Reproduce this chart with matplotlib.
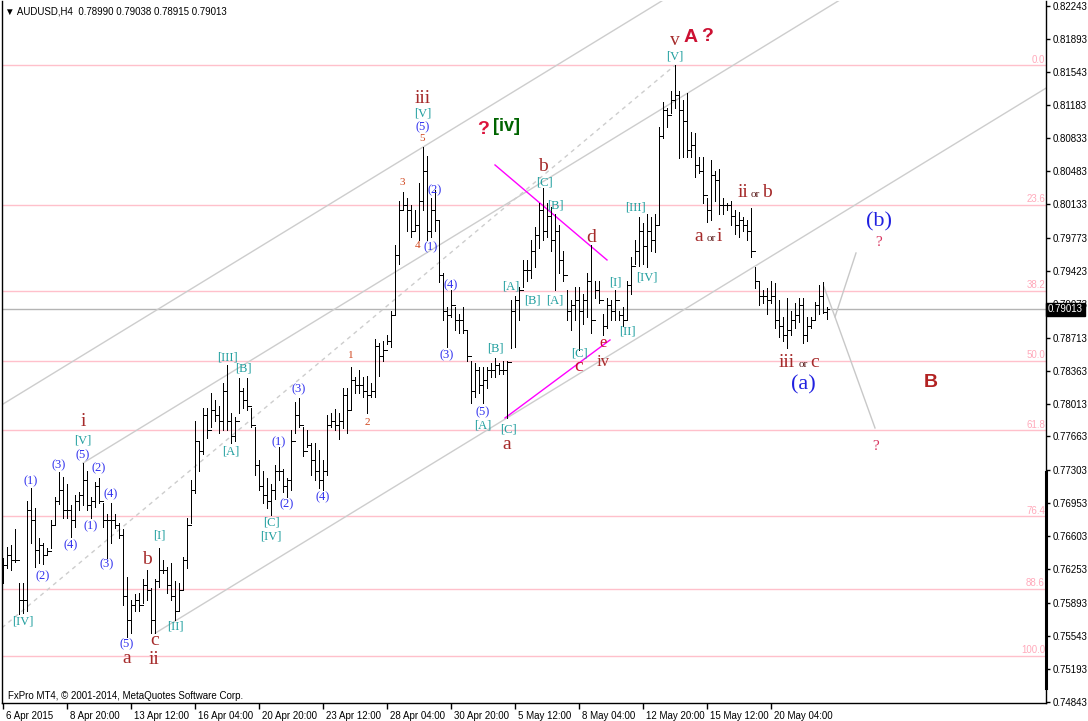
import matplotlib
matplotlib.use('Agg')
import matplotlib.pyplot as plt
from matplotlib.lines import Line2D
from matplotlib import transforms

# AUDUSD H4 bars, 6 Apr - 22 May 2015
highs = [
    0.7637, 0.7649, 0.7651, 0.7668, 0.7611, 0.7610, 0.7698, 0.7711, 0.7690, 0.7658,
    0.7653, 0.7648, 0.7677, 0.7702, 0.7728, 0.7723, 0.7716, 0.7693, 0.7704, 0.7707,
    0.7738, 0.7730, 0.7702, 0.7718, 0.7722, 0.7696, 0.7684, 0.7696, 0.7684, 0.7674,
    0.7668, 0.7617, 0.7592, 0.7599, 0.7600, 0.7615, 0.7624, 0.7605, 0.7615, 0.7648,
    0.7635, 0.7627, 0.7632, 0.7613, 0.7610, 0.7638, 0.7680, 0.7720, 0.7783, 0.7760,
    0.7797, 0.7797, 0.7812, 0.7805, 0.7799, 0.7823, 0.7842, 0.7791, 0.7787, 0.7828,
    0.7818, 0.7828, 0.7797, 0.7776, 0.7741, 0.7730, 0.7722, 0.7716, 0.7736, 0.7755,
    0.7732, 0.7722, 0.7773, 0.7803, 0.7807, 0.7776, 0.7773, 0.7759, 0.7759, 0.7752,
    0.7741, 0.7789, 0.7791, 0.7796, 0.7791, 0.7818, 0.7818, 0.7840, 0.7829, 0.7837,
    0.7829, 0.7831, 0.7823, 0.7870, 0.7866, 0.7868, 0.7874, 0.7900, 0.7970, 0.8017,
    0.8026, 0.8020, 0.8012, 0.8007, 0.8036, 0.8074, 0.8065, 0.8020, 0.8028, 0.7996,
    0.7940, 0.7904, 0.7922, 0.7904, 0.7897, 0.7904, 0.7879, 0.7847, 0.7844, 0.7840,
    0.7840, 0.7840, 0.7844, 0.7850, 0.7844, 0.7847, 0.7847, 0.7911, 0.7916, 0.7925,
    0.7954, 0.7954, 0.7975, 0.7989, 0.8014, 0.8030, 0.8014, 0.8010, 0.8003, 0.7991,
    0.7964, 0.7922, 0.7911, 0.7925, 0.7925, 0.7918, 0.7940, 0.7970, 0.7932, 0.7932,
    0.7897, 0.7914, 0.7911, 0.7922, 0.7900, 0.7904, 0.7932, 0.7957, 0.7975, 0.8000,
    0.7993, 0.8003, 0.8000, 0.8003, 0.8095, 0.8122, 0.8116, 0.8134, 0.8161, 0.8134,
    0.8124, 0.8132, 0.8090, 0.8089, 0.8063, 0.8063, 0.8020, 0.8060, 0.8049, 0.8051,
    0.8020, 0.8015, 0.8017, 0.8007, 0.8005, 0.8000, 0.7996, 0.8009, 0.7946, 0.7932,
    0.7922, 0.7924, 0.7932, 0.7929, 0.7911, 0.7893, 0.7914, 0.7900, 0.7908, 0.7913,
    0.7914, 0.7893, 0.7893, 0.7909, 0.7927, 0.7930, 0.79038,
]
lows = [
    0.7610, 0.7626, 0.7624, 0.7633, 0.7578, 0.7579, 0.7581, 0.7653, 0.7627, 0.7632,
    0.7631, 0.7640, 0.7648, 0.7672, 0.7695, 0.7680, 0.7680, 0.7659, 0.7670, 0.7688,
    0.7693, 0.7688, 0.7680, 0.7691, 0.7696, 0.7670, 0.7637, 0.7653, 0.7669, 0.7658,
    0.7587, 0.7553, 0.7557, 0.7581, 0.7581, 0.7589, 0.7592, 0.7557, 0.7557, 0.7606,
    0.7621, 0.7600, 0.7592, 0.7571, 0.7581, 0.7603, 0.7626, 0.7674, 0.7706, 0.7730,
    0.7748, 0.7765, 0.7776, 0.7783, 0.7770, 0.7773, 0.7773, 0.7759, 0.7762, 0.7791,
    0.7797, 0.7794, 0.7776, 0.7725, 0.7709, 0.7696, 0.7690, 0.7683, 0.7700, 0.7720,
    0.7707, 0.7702, 0.7709, 0.7770, 0.7776, 0.7746, 0.7755, 0.7725, 0.7720, 0.7711,
    0.7709, 0.7725, 0.7776, 0.7773, 0.7764, 0.7775, 0.7770, 0.7794, 0.7812, 0.7813,
    0.7808, 0.7791, 0.7808, 0.7808, 0.7831, 0.7847, 0.7865, 0.7861, 0.7897, 0.7950,
    0.8007, 0.7985, 0.7978, 0.7985, 0.7975, 0.8007, 0.7975, 0.7978, 0.7985, 0.7930,
    0.7890, 0.7861, 0.7893, 0.7879, 0.7876, 0.7876, 0.7847, 0.7802, 0.7808, 0.7812,
    0.7802, 0.7818, 0.7829, 0.7829, 0.7833, 0.7833, 0.7786, 0.7860, 0.7861, 0.7890,
    0.7925, 0.7932, 0.7935, 0.7946, 0.7967, 0.7975, 0.7978, 0.7964, 0.7922, 0.7940,
    0.7932, 0.7890, 0.7879, 0.7890, 0.7858, 0.7886, 0.7893, 0.7876, 0.7914, 0.7908,
    0.7874, 0.7882, 0.7890, 0.7890, 0.7890, 0.7884, 0.7890, 0.7918, 0.7950, 0.7948,
    0.7950, 0.7946, 0.7964, 0.7962, 0.7991, 0.8084, 0.8095, 0.8110, 0.8116, 0.8062,
    0.8063, 0.8063, 0.8063, 0.8042, 0.8046, 0.8014, 0.7994, 0.7996, 0.8017, 0.8003,
    0.8003, 0.8007, 0.7991, 0.7982, 0.7978, 0.7985, 0.7975, 0.7957, 0.7924, 0.7906,
    0.7908, 0.7897, 0.7908, 0.7882, 0.7872, 0.7868, 0.7860, 0.7874, 0.7882, 0.7888,
    0.7866, 0.7868, 0.7882, 0.7890, 0.7897, 0.7898, 0.78915,
]
closes = [
    0.7630, 0.7640, 0.7635, 0.7635, 0.7592, 0.7592, 0.7688, 0.7677, 0.7646, 0.7651,
    0.7640, 0.7645, 0.7672, 0.7698, 0.7709, 0.7688, 0.7688, 0.7677, 0.7698, 0.7704,
    0.7720, 0.7693, 0.7698, 0.7714, 0.7698, 0.7677, 0.7677, 0.7677, 0.7672, 0.7661,
    0.7597, 0.7571, 0.7587, 0.7592, 0.7587, 0.7608, 0.7603, 0.7571, 0.7613, 0.7624,
    0.7624, 0.7608, 0.7597, 0.7581, 0.7603, 0.7635, 0.7672, 0.7709, 0.7762, 0.7751,
    0.7789, 0.7773, 0.7794, 0.7789, 0.7783, 0.7815, 0.7783, 0.7767, 0.7783, 0.7815,
    0.7805, 0.7799, 0.7778, 0.7736, 0.7714, 0.7704, 0.7698, 0.7709, 0.7730, 0.7730,
    0.7714, 0.7720, 0.7762, 0.7789, 0.7778, 0.7751, 0.7757, 0.7741, 0.7730, 0.7720,
    0.7730, 0.7778, 0.7783, 0.7778, 0.7783, 0.7810, 0.7794, 0.7826, 0.7821, 0.7821,
    0.7815, 0.7810, 0.7815, 0.7863, 0.7852, 0.7858, 0.7868, 0.7895, 0.7959, 0.8007,
    0.8012, 0.8007, 0.7985, 0.7991, 0.8017, 0.8049, 0.7985, 0.8007, 0.7996, 0.7938,
    0.7900, 0.7895, 0.7906, 0.7890, 0.7890, 0.7879, 0.7852, 0.7815, 0.7837, 0.7821,
    0.7826, 0.7837, 0.7837, 0.7842, 0.7837, 0.7837, 0.7845, 0.7900, 0.7911, 0.7922,
    0.7943, 0.7943, 0.7964, 0.7980, 0.8007, 0.7985, 0.8001, 0.7975, 0.7985, 0.7954,
    0.7938, 0.7900, 0.7906, 0.7911, 0.7900, 0.7911, 0.7932, 0.7890, 0.7922, 0.7911,
    0.7884, 0.7906, 0.7900, 0.7911, 0.7895, 0.7890, 0.7927, 0.7948, 0.7964, 0.7985,
    0.7969, 0.7985, 0.7975, 0.7991, 0.8086, 0.8113, 0.8108, 0.8124, 0.8129, 0.8113,
    0.8102, 0.8071, 0.8076, 0.8055, 0.8049, 0.8023, 0.8007, 0.8044, 0.8039, 0.8012,
    0.8012, 0.8012, 0.8001, 0.7991, 0.7996, 0.7991, 0.7985, 0.7964, 0.7932, 0.7916,
    0.7916, 0.7911, 0.7916, 0.7890, 0.7884, 0.7874, 0.7879, 0.7890, 0.7895, 0.7906,
    0.7874, 0.7884, 0.7890, 0.7906, 0.7916, 0.7899, 0.79013,
]

date_ticks = [0, 16, 32, 48, 64, 80, 96, 112, 128, 144, 160, 176, 192]
date_labels = ['6 Apr 2015', '8 Apr 20:00', '13 Apr 12:00', '16 Apr 04:00', '20 Apr 20:00',
               '23 Apr 12:00', '28 Apr 04:00', '30 Apr 20:00', '5 May 12:00', '8 May 04:00',
               '12 May 20:00', '15 May 12:00', '20 May 04:00']
price_ticks = [0.82243, 0.81893, 0.81543, 0.81183, 0.80833, 0.80483, 0.80133, 0.79773,
               0.79423, 0.79073, 0.78713, 0.78363, 0.78013, 0.77663, 0.77303, 0.76953,
               0.76603, 0.76253, 0.75893, 0.75543, 0.75193, 0.74843]
fib_levels = [0.0, 23.6, 38.2, 50.0, 61.8, 76.4, 88.6, 100.0]
fib_high = 0.8161
fib_low = 0.7533
last_price = 0.79013
header = u'\u25bc AUDUSD,H4  0.78990 0.79038 0.78915 0.79013'

W, H = 1088, 721
fig = plt.figure(figsize=(W / 100.0, H / 100.0), dpi=100)
ax = fig.add_axes([2.0 / W, 18.0 / H, 1044.0 / W, 702.0 / H])
ax.set_xlim(-0.25, 260.75)
ax.set_ylim(0.74829, 0.82293)


def px(x, y):
    # screen position of the MT4 window -> (bar, price)
    return (x - 3) / 4.0, 0.82304 - y / 9405.0


SERIF = 'Liberation Serif'
SANS = ['Liberation Sans', 'DejaVu Sans']

# fibo levels + current price line
for lev in fib_levels:
    p = fib_high - (fib_high - fib_low) * lev / 100.0
    ax.axhline(p, color='#FFC0CB', lw=1, zorder=1)
    ax.text(260.5, p + 0.00005, '%.1f' % lev, ha='right', va='bottom', fontsize=7,
            color='#FFAABB', family=SANS, zorder=1)
ax.axhline(last_price, color='#B4B4B4', lw=1, zorder=1)

# channel (parallel lines through the c-low / [C]-low)
xs = range(len(highs))
slope = (lows[126] - lows[38]) / (126 - 38)
ch_col = '#CDCDCD'
ax.plot([38, 260.75], [lows[38], lows[38] + slope * (260.75 - 38)], color=ch_col, lw=1, zorder=1)
ax.plot([-0.25, 260.75], [highs[105] + slope * (-0.25 - 105), highs[105] + slope * (260.75 - 105)],
        color=ch_col, lw=1, zorder=1)
ax.plot([20, 260.75], [highs[20], highs[20] + slope * (260.75 - 20)], color=ch_col, lw=1, zorder=1)
# dashed line [IV] low -> [V] high
s2 = (highs[168] - lows[4]) / (168 - 4)
ax.plot([-0.25, 168], [lows[4] + s2 * (-0.25 - 4), highs[168]], color=ch_col, lw=1,
        ls=(0, (3, 3)), zorder=1)

# triangle lines
for (a, b) in [((495, 165), (607, 260)), ((505, 418), (610, 340))]:
    p0, p1 = px(*a), px(*b)
    ax.plot([p0[0], p1[0]], [p0[1], p1[1]], color='#FF00FF', lw=1, zorder=2)
# projection
proj = [px(824, 287), px(835, 317), px(856, 253)]
ax.plot([p[0] for p in proj], [p[1] for p in proj], color='#C8C8C8', lw=1, zorder=2)
pr2 = [px(835, 317), px(875, 428)]
ax.plot([p[0] for p in pr2], [p[1] for p in pr2], color='#C8C8C8', lw=1, zorder=2)

# OHLC bars
opens = [closes[0]] + closes[:-1]
ax.vlines(list(xs), lows, highs, color='black', lw=0.72, antialiased=False, zorder=3)
ax.hlines(opens, [i - 0.45 for i in xs], list(xs), color='black', lw=0.72, antialiased=False, zorder=3)
ax.hlines(closes, list(xs), [i + 0.45 for i in xs], color='black', lw=0.72, antialiased=False, zorder=3)

# wave labels
brown = '#A52A2A'
crimson = '#C8102E'
teal = '#1F9E9E'
blue = '#3030EE'
orange = '#D0461E'

brown_labels = [('i', 83, 422), ('a', 127, 659), ('b', 147, 560), ('c', 155, 641), ('ii', 154, 660),
                ('iii', 423, 99), ('a', 507, 445), ('b', 543, 167), ('d', 591, 238), ('v', 675, 41)]
for t, x, y in brown_labels:
    ax.text(*px(x, y), t, color=brown, fontsize=14, family=SERIF, ha='center', va='center', zorder=4)
ax.text(*px(579, 367), 'c', color=crimson, fontsize=14, family=SERIF, ha='center', va='center', zorder=4)
ax.text(*px(603, 343), 'e', color=crimson, fontsize=12, family=SERIF, ha='center', va='center', zorder=4)
ax.text(*px(603, 362), 'iv', color=brown, fontsize=12, family=SERIF, ha='center', va='center', zorder=4)

teal_labels = [('[IV]', 23, 622), ('[V]', 83, 441), ('[I]', 159, 536), ('[II]', 175, 627),
               ('[III]', 227, 358), ('[B]', 243, 369), ('[A]', 231, 452), ('[C]', 271, 523),
               ('[IV]', 271, 537), ('[V]', 423, 114), ('[A]', 483, 426), ('[B]', 495, 349),
               ('[C]', 508, 430), ('[A]', 511, 287), ('[B]', 532, 301), ('[A]', 555, 301),
               ('[C]', 544, 183), ('[B]', 555, 206), ('[C]', 579, 354), ('[I]', 615, 283),
               ('[II]', 627, 332), ('[III]', 635, 208), ('[IV]', 647, 278), ('[V]', 675, 57)]
for t, x, y in teal_labels:
    ax.text(*px(x, y), t, color=teal, fontsize=9, family=SERIF, ha='center', va='center', zorder=4)

blue_labels = [('(1)', 31, 481), ('(3)', 59, 465), ('(5)', 83, 455), ('(2)', 99, 468), ('(4)', 111, 494),
               ('(1)', 91, 526), ('(4)', 71, 545), ('(2)', 43, 576), ('(3)', 107, 564), ('(5)', 127, 644),
               ('(3)', 299, 389), ('(1)', 279, 442), ('(2)', 287, 504), ('(4)', 323, 497),
               ('(5)', 423, 127), ('(2)', 435, 190), ('(1)', 431, 247), ('(4)', 451, 285),
               ('(3)', 447, 355), ('(5)', 483, 412)]
for t, x, y in blue_labels:
    ax.text(*px(x, y), t, color=blue, fontsize=9, family=SERIF, ha='center', va='center', zorder=4)

for t, x, y in [('1', 351, 356), ('2', 367, 423), ('3', 402, 183), ('4', 418, 246), ('5', 422, 139)]:
    ax.text(*px(x, y), t, color=orange, fontsize=8, family=SERIF, ha='center', va='center', zorder=4)

# "x or y" labels
for big1, x1, small_x, big2, x2, y in [('a', 699, 711, 'i', 719, 237), ('ii', 743, 755, 'b', 767, 193),
                                       ('iii', 787, 803, 'c', 815, 363)]:
    ax.text(*px(x1, y), big1, color=brown, fontsize=14, family=SERIF, ha='center', va='center', zorder=4)
    ax.text(*px(small_x, y + 2), 'or', color='#5A1A1A', fontsize=8, family=SERIF, ha='center',
            va='center', zorder=4)
    ax.text(*px(x2, y), big2, color=brown, fontsize=14, family=SERIF, ha='center', va='center', zorder=4)

ax.text(*px(803, 385), '(a)', color='#2020E0', fontsize=16, family=SERIF, ha='center', va='center', zorder=4)
ax.text(*px(879, 222), '(b)', color='#2020E0', fontsize=16, family=SERIF, ha='center', va='center', zorder=4)
for x, y in [(879, 243), (876, 447)]:
    ax.text(*px(x, y), '?', color='#D8345F', fontsize=11, family=SERIF, ha='center', va='center', zorder=4)

for t, x, y, c, s in [('?', 483, 130, '#DC143C', 14), ('[iv]', 507, 127, '#006400', 13),
                      ('A', 691, 38, '#CC1133', 14), ('?', 707, 37, '#CC1133', 14),
                      ('B', 931, 383, '#B22222', 14)]:
    ax.text(*px(x, y), t, color=c, fontsize=s, family=SANS, weight='bold', ha='center',
            va='center', zorder=4)

# axes cosmetics
for side in ['left', 'right', 'bottom']:
    ax.spines[side].set_linewidth(1)
    ax.spines[side].set_color('black')
ax.spines['top'].set_visible(False)

ax.yaxis.tick_right()
ax.set_yticks(price_ticks)
ax.set_yticklabels(['%.5f' % p for p in price_ticks], fontsize=7, family=SANS)
ax.tick_params(axis='y', direction='out', length=3, width=1, pad=2)
ax.set_xticks(date_ticks)
ax.set_xticklabels(date_labels, fontsize=7, family=SANS)
ax.tick_params(axis='x', direction='out', length=4, width=1, pad=2)
shift = transforms.ScaledTranslation(2 / 72.0, 0, fig.dpi_scale_trans)
for lab in ax.get_xticklabels():
    lab.set_ha('left')
    lab.set_transform(lab.get_transform() + shift)

ax.annotate('%.5f' % last_price, xy=(1.0, last_price), xycoords=('axes fraction', 'data'),
            xytext=(1.5, 0), textcoords='offset points', ha='left', va='center', color='white',
            fontsize=7, family=SANS, annotation_clip=False, zorder=10,
            bbox=dict(boxstyle='square,pad=0.2', fc='black', ec='black'))

fig.add_artist(Line2D([1045.5 / W, 1045.5 / W], [1 - 472.0 / H, 1 - 688.0 / H], color='black',
                      lw=2.2, transform=fig.transFigure))
fig.text(5.0 / W, 1 - 14.0 / H, header, fontsize=7, family=SANS, va='baseline')
fig.text(8.0 / W, 1 - 699.0 / H, u'FxPro MT4, \u00a9 2001-2014, MetaQuotes Software Corp.',
         fontsize=7, family=SANS, va='baseline')

fig.savefig('out.png', dpi=100, facecolor='white')
